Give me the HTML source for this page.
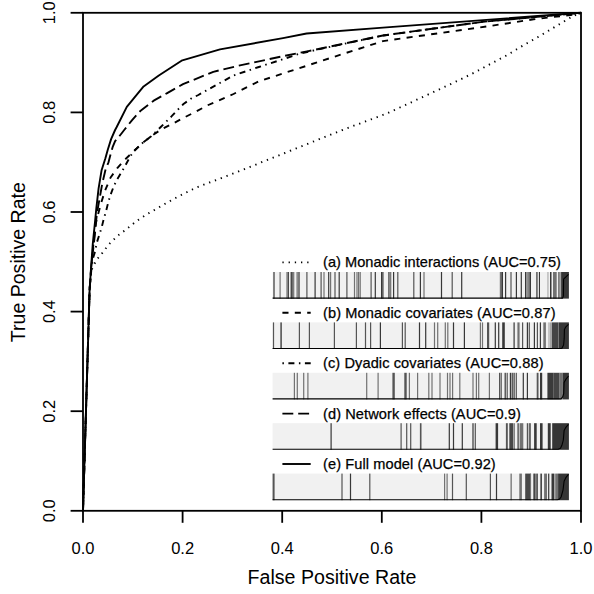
<!DOCTYPE html>
<html><head><meta charset="utf-8"><style>
html,body{margin:0;padding:0;background:#fff;overflow:hidden;}
svg{display:block;}
text{font-family:"Liberation Sans",sans-serif;fill:#000;}
</style></head><body>
<svg width="594" height="594" viewBox="0 0 594 594">
<rect width="594" height="594" fill="#fff"/>

<polyline points="83.0,510.8 89.6,289.9 91.5,270.0 94.0,264.7 96.9,259.4 100.8,255.0 108.4,244.9 116.8,236.5 126.9,228.9 136.2,221.3 146.3,214.6 157.2,208.4 168.2,202.0 179.1,196.1 196.0,187.7 240.5,170.7 291.0,150.5 341.5,130.3 385.3,114.1 402.2,106.5 424.7,96.1 447.1,85.7 458.3,80.5 474.7,72.4 491.1,63.6 507.5,54.9 523.9,45.0 539.3,36.3 555.7,26.4 572.1,16.6 581.0,12.8" fill="none" stroke="#000" stroke-width="1.9" stroke-linejoin="round" stroke-dasharray="1.3 4.9"/>
<polyline points="83.0,510.8 89.6,289.9 91.3,267.0 93.3,245.0 95.6,224.2 98.1,214.1 101.6,201.5 105.1,190.4 110.6,177.5 117.1,168.4 124.2,160.3 134.3,150.7 142.4,143.1 153.0,135.0 161.1,129.5 174.2,122.9 185.4,116.9 196.5,111.3 207.6,105.3 233.5,94.0 258.8,81.3 283.0,73.5 333.5,57.0 383.0,41.1 488.0,26.3 533.5,19.3 577.3,14.2 581.0,12.8" fill="none" stroke="#000" stroke-width="1.9" stroke-linejoin="round" stroke-dasharray="6.1 6.3"/>
<polyline points="83.0,510.8 89.6,289.9 91.5,268.0 92.8,258.8 95.1,251.5 96.6,243.4 99.1,235.4 101.7,227.3 103.7,219.2 106.2,210.6 108.2,202.5 110.7,194.4 113.7,186.4 117.1,179.5 121.7,171.9 125.7,164.8 130.3,156.3 134.3,150.7 142.4,143.1 151.2,136.3 160.5,127.3 171.7,116.2 177.3,110.2 183.5,104.0 190.9,98.7 198.3,95.0 206.1,90.6 233.5,75.5 258.8,67.0 283.0,59.2 299.8,53.6 333.5,46.1 383.0,35.5 483.0,21.8 581.0,12.8" fill="none" stroke="#000" stroke-width="1.9" stroke-linejoin="round" stroke-dasharray="1.5 4.5 6 4.5"/>
<polyline points="83.0,510.8 89.6,289.9 91.4,265.0 94.4,238.6 96.9,213.3 99.6,198.5 102.1,184.3 105.6,169.2 108.5,162.3 110.6,154.2 112.6,147.2 115.1,141.1 120.7,134.5 124.2,130.0 131.9,120.3 140.3,111.0 153.7,100.7 167.2,93.1 183.0,84.2 213.3,71.8 238.6,65.7 283.0,56.2 308.3,51.1 383.0,35.5 483.0,21.8 581.0,12.8" fill="none" stroke="#000" stroke-width="1.9" stroke-linejoin="round" stroke-dasharray="10.9 4.9"/>
<polyline points="83.0,510.8 89.6,289.9 91.1,267.0 92.8,243.5 95.2,220.0 96.3,208.6 98.6,188.4 101.6,170.2 105.4,158.3 107.7,150.0 111.1,139.1 115.1,130.0 116.7,127.0 126.8,106.8 143.6,86.4 158.8,75.5 182.3,60.3 220.0,49.4 283.0,38.1 306.6,33.5 383.0,27.6 483.0,20.1 581.0,12.8" fill="none" stroke="#000" stroke-width="1.9" stroke-linejoin="round"/>
<line x1="282.4" y1="262.4" x2="310.7" y2="262.4" stroke="#000" stroke-width="1.9" stroke-dasharray="1.3 4.9"/>
<text x="323.0" y="267.4" font-size="14.6" stroke="#000" stroke-width="0.25" textLength="237.9" lengthAdjust="spacing">(a) Monadic interactions (AUC=0.75)</text>
<line x1="282.4" y1="312.8" x2="310.7" y2="312.8" stroke="#000" stroke-width="1.9" stroke-dasharray="6.1 6.3"/>
<text x="323.0" y="317.8" font-size="14.6" stroke="#000" stroke-width="0.25" textLength="232.5" lengthAdjust="spacing">(b) Monadic covariates (AUC=0.87)</text>
<line x1="282.4" y1="363.2" x2="310.7" y2="363.2" stroke="#000" stroke-width="1.9" stroke-dasharray="1.5 4.5 6 4.5"/>
<text x="323.0" y="368.2" font-size="14.6" stroke="#000" stroke-width="0.25" textLength="220.5" lengthAdjust="spacing">(c) Dyadic covariates (AUC=0.88)</text>
<line x1="282.4" y1="413.6" x2="310.7" y2="413.6" stroke="#000" stroke-width="1.9" stroke-dasharray="10.9 4.9"/>
<text x="323.0" y="418.6" font-size="14.6" stroke="#000" stroke-width="0.25" textLength="197.9" lengthAdjust="spacing">(d) Network effects (AUC=0.9)</text>
<line x1="282.4" y1="464.0" x2="310.7" y2="464.0" stroke="#000" stroke-width="1.9"/>
<text x="323.0" y="469.0" font-size="14.6" stroke="#000" stroke-width="0.25" textLength="172.7" lengthAdjust="spacing">(e) Full model (AUC=0.92)</text>
<rect x="272.6" y="272.0" width="296.3" height="26.6" fill="#f1f1f1"/>
<rect x="273.40" y="272.0" width="1.20" height="26.6" fill="#383838"/>
<rect x="279.50" y="272.0" width="1.20" height="26.6" fill="#727272"/>
<rect x="286.40" y="272.0" width="1.20" height="26.6" fill="#727272"/>
<rect x="287.70" y="272.0" width="1.20" height="26.6" fill="#383838"/>
<rect x="290.60" y="272.0" width="1.20" height="26.6" fill="#383838"/>
<rect x="291.50" y="272.0" width="1.20" height="26.6" fill="#383838"/>
<rect x="293.10" y="272.0" width="1.20" height="26.6" fill="#727272"/>
<rect x="296.50" y="272.0" width="1.20" height="26.6" fill="#727272"/>
<rect x="297.70" y="272.0" width="1.20" height="26.6" fill="#727272"/>
<rect x="298.70" y="272.0" width="1.20" height="26.6" fill="#727272"/>
<rect x="306.30" y="272.0" width="1.20" height="26.6" fill="#555555"/>
<rect x="314.50" y="272.0" width="1.20" height="26.6" fill="#383838"/>
<rect x="320.50" y="272.0" width="1.20" height="26.6" fill="#555555"/>
<rect x="323.40" y="272.0" width="1.20" height="26.6" fill="#727272"/>
<rect x="328.10" y="272.0" width="1.20" height="26.6" fill="#383838"/>
<rect x="330.00" y="272.0" width="1.20" height="26.6" fill="#727272"/>
<rect x="334.40" y="272.0" width="1.20" height="26.6" fill="#555555"/>
<rect x="338.60" y="272.0" width="1.20" height="26.6" fill="#383838"/>
<rect x="346.30" y="272.0" width="1.20" height="26.6" fill="#555555"/>
<rect x="353.90" y="272.0" width="1.20" height="26.6" fill="#727272"/>
<rect x="356.40" y="272.0" width="1.20" height="26.6" fill="#727272"/>
<rect x="358.00" y="272.0" width="1.20" height="26.6" fill="#727272"/>
<rect x="359.60" y="272.0" width="1.20" height="26.6" fill="#727272"/>
<rect x="370.50" y="272.0" width="1.20" height="26.6" fill="#555555"/>
<rect x="374.70" y="272.0" width="1.20" height="26.6" fill="#383838"/>
<rect x="381.00" y="272.0" width="1.20" height="26.6" fill="#383838"/>
<rect x="382.30" y="272.0" width="1.20" height="26.6" fill="#383838"/>
<rect x="388.00" y="272.0" width="1.20" height="26.6" fill="#727272"/>
<rect x="389.20" y="272.0" width="1.20" height="26.6" fill="#727272"/>
<rect x="390.10" y="272.0" width="1.20" height="26.6" fill="#727272"/>
<rect x="393.00" y="272.0" width="1.20" height="26.6" fill="#383838"/>
<rect x="397.20" y="272.0" width="1.20" height="26.6" fill="#555555"/>
<rect x="413.20" y="272.0" width="1.20" height="26.6" fill="#555555"/>
<rect x="419.80" y="272.0" width="1.20" height="26.6" fill="#383838"/>
<rect x="423.40" y="272.0" width="1.20" height="26.6" fill="#727272"/>
<rect x="440.90" y="272.0" width="1.20" height="26.6" fill="#383838"/>
<rect x="451.60" y="272.0" width="1.20" height="26.6" fill="#555555"/>
<rect x="461.10" y="272.0" width="1.20" height="26.6" fill="#383838"/>
<rect x="499.80" y="272.0" width="1.20" height="26.6" fill="#727272"/>
<rect x="500.90" y="272.0" width="1.20" height="26.6" fill="#727272"/>
<rect x="501.80" y="272.0" width="1.20" height="26.6" fill="#383838"/>
<rect x="505.00" y="272.0" width="1.20" height="26.6" fill="#383838"/>
<rect x="510.40" y="272.0" width="1.20" height="26.6" fill="#555555"/>
<rect x="515.80" y="272.0" width="1.20" height="26.6" fill="#383838"/>
<rect x="520.70" y="272.0" width="1.20" height="26.6" fill="#383838"/>
<rect x="525.00" y="272.0" width="1.20" height="26.6" fill="#383838"/>
<rect x="526.40" y="272.0" width="1.20" height="26.6" fill="#727272"/>
<rect x="527.60" y="272.0" width="1.20" height="26.6" fill="#727272"/>
<rect x="528.70" y="272.0" width="1.20" height="26.6" fill="#727272"/>
<rect x="529.80" y="272.0" width="1.20" height="26.6" fill="#383838"/>
<rect x="536.00" y="272.0" width="1.80" height="26.6" fill="#727272"/>
<rect x="538.90" y="272.0" width="1.10" height="26.6" fill="#383838"/>
<rect x="547.40" y="272.0" width="1.10" height="26.6" fill="#a8a8a8"/>
<rect x="550.00" y="272.0" width="1.50" height="26.6" fill="#383838"/>
<rect x="553.00" y="272.0" width="3.70" height="26.6" fill="#727272"/>
<rect x="558.10" y="272.0" width="1.20" height="26.6" fill="#727272"/>
<rect x="559.60" y="272.0" width="0.80" height="26.6" fill="#383838"/>
<rect x="561.1" y="272.0" width="7.8" height="26.6" fill="#363636"/>
<polyline points="272.6,298.1 562.6,298.1 563.4,295.9 563.6,279.2 568.5,274.3" fill="none" stroke="#000" stroke-width="1.1" stroke-linejoin="round"/>
<rect x="272.6" y="322.4" width="296.3" height="26.6" fill="#f1f1f1"/>
<rect x="272.90" y="322.4" width="1.20" height="26.6" fill="#555555"/>
<rect x="280.30" y="322.4" width="1.60" height="26.6" fill="#555555"/>
<rect x="298.80" y="322.4" width="1.20" height="26.6" fill="#555555"/>
<rect x="308.80" y="322.4" width="1.20" height="26.6" fill="#555555"/>
<rect x="333.80" y="322.4" width="1.20" height="26.6" fill="#555555"/>
<rect x="355.80" y="322.4" width="1.20" height="26.6" fill="#555555"/>
<rect x="364.90" y="322.4" width="1.20" height="26.6" fill="#555555"/>
<rect x="370.00" y="322.4" width="1.20" height="26.6" fill="#555555"/>
<rect x="379.80" y="322.4" width="1.20" height="26.6" fill="#383838"/>
<rect x="401.80" y="322.4" width="1.20" height="26.6" fill="#555555"/>
<rect x="404.60" y="322.4" width="1.20" height="26.6" fill="#555555"/>
<rect x="418.90" y="322.4" width="1.20" height="26.6" fill="#383838"/>
<rect x="425.10" y="322.4" width="1.20" height="26.6" fill="#383838"/>
<rect x="433.90" y="322.4" width="1.20" height="26.6" fill="#727272"/>
<rect x="437.10" y="322.4" width="1.20" height="26.6" fill="#727272"/>
<rect x="444.70" y="322.4" width="1.20" height="26.6" fill="#727272"/>
<rect x="447.20" y="322.4" width="1.20" height="26.6" fill="#727272"/>
<rect x="452.90" y="322.4" width="1.20" height="26.6" fill="#383838"/>
<rect x="463.80" y="322.4" width="1.20" height="26.6" fill="#383838"/>
<rect x="479.80" y="322.4" width="1.20" height="26.6" fill="#727272"/>
<rect x="481.90" y="322.4" width="1.20" height="26.6" fill="#727272"/>
<rect x="487.00" y="322.4" width="2.20" height="26.6" fill="#555555"/>
<rect x="494.70" y="322.4" width="1.20" height="26.6" fill="#383838"/>
<rect x="498.10" y="322.4" width="1.20" height="26.6" fill="#383838"/>
<rect x="502.20" y="322.4" width="2.60" height="26.6" fill="#383838"/>
<rect x="513.50" y="322.4" width="1.20" height="26.6" fill="#383838"/>
<rect x="517.40" y="322.4" width="2.20" height="26.6" fill="#727272"/>
<rect x="522.00" y="322.4" width="1.20" height="26.6" fill="#555555"/>
<rect x="526.80" y="322.4" width="1.20" height="26.6" fill="#383838"/>
<rect x="528.70" y="322.4" width="1.20" height="26.6" fill="#555555"/>
<rect x="533.80" y="322.4" width="1.20" height="26.6" fill="#383838"/>
<rect x="536.80" y="322.4" width="1.20" height="26.6" fill="#555555"/>
<rect x="539.80" y="322.4" width="1.20" height="26.6" fill="#383838"/>
<rect x="543.30" y="322.4" width="2.60" height="26.6" fill="#727272"/>
<rect x="548.40" y="322.4" width="1.20" height="26.6" fill="#a8a8a8"/>
<rect x="550.40" y="322.4" width="1.10" height="26.6" fill="#727272"/>
<rect x="551.90" y="322.4" width="6.20" height="26.6" fill="#454545"/>
<rect x="558.10" y="322.4" width="0.80" height="26.6" fill="#6a6a6a"/>
<rect x="558.9" y="322.4" width="10.0" height="26.6" fill="#363636"/>
<polyline points="272.6,348.5 561.8,348.5 563.6,345.0 564.2,338.4 564.4,329.6 565.6,327.2 568.5,324.3" fill="none" stroke="#000" stroke-width="1.1" stroke-linejoin="round"/>
<rect x="272.6" y="372.8" width="296.3" height="26.6" fill="#f1f1f1"/>
<rect x="293.80" y="372.8" width="1.20" height="26.6" fill="#727272"/>
<rect x="296.70" y="372.8" width="1.20" height="26.6" fill="#727272"/>
<rect x="303.10" y="372.8" width="1.20" height="26.6" fill="#727272"/>
<rect x="307.30" y="372.8" width="1.20" height="26.6" fill="#727272"/>
<rect x="366.10" y="372.8" width="1.20" height="26.6" fill="#727272"/>
<rect x="377.50" y="372.8" width="1.20" height="26.6" fill="#727272"/>
<rect x="392.40" y="372.8" width="2.40" height="26.6" fill="#555555"/>
<rect x="404.30" y="372.8" width="2.40" height="26.6" fill="#555555"/>
<rect x="408.80" y="372.8" width="1.20" height="26.6" fill="#727272"/>
<rect x="417.00" y="372.8" width="1.20" height="26.6" fill="#727272"/>
<rect x="428.20" y="372.8" width="1.20" height="26.6" fill="#727272"/>
<rect x="431.40" y="372.8" width="1.20" height="26.6" fill="#727272"/>
<rect x="439.40" y="372.8" width="1.20" height="26.6" fill="#727272"/>
<rect x="446.90" y="372.8" width="1.20" height="26.6" fill="#727272"/>
<rect x="449.40" y="372.8" width="1.20" height="26.6" fill="#727272"/>
<rect x="452.00" y="372.8" width="1.20" height="26.6" fill="#727272"/>
<rect x="459.20" y="372.8" width="1.20" height="26.6" fill="#727272"/>
<rect x="472.40" y="372.8" width="1.20" height="26.6" fill="#727272"/>
<rect x="475.80" y="372.8" width="1.20" height="26.6" fill="#727272"/>
<rect x="478.10" y="372.8" width="1.20" height="26.6" fill="#727272"/>
<rect x="488.80" y="372.8" width="1.20" height="26.6" fill="#727272"/>
<rect x="499.00" y="372.8" width="1.20" height="26.6" fill="#555555"/>
<rect x="500.60" y="372.8" width="1.20" height="26.6" fill="#555555"/>
<rect x="504.60" y="372.8" width="1.20" height="26.6" fill="#383838"/>
<rect x="506.60" y="372.8" width="1.20" height="26.6" fill="#555555"/>
<rect x="509.80" y="372.8" width="1.20" height="26.6" fill="#383838"/>
<rect x="511.60" y="372.8" width="1.20" height="26.6" fill="#383838"/>
<rect x="513.50" y="372.8" width="1.20" height="26.6" fill="#383838"/>
<rect x="515.70" y="372.8" width="1.20" height="26.6" fill="#555555"/>
<rect x="522.70" y="372.8" width="1.20" height="26.6" fill="#383838"/>
<rect x="526.80" y="372.8" width="1.20" height="26.6" fill="#383838"/>
<rect x="536.70" y="372.8" width="1.80" height="26.6" fill="#555555"/>
<rect x="540.00" y="372.8" width="2.20" height="26.6" fill="#383838"/>
<rect x="547.40" y="372.8" width="6.30" height="26.6" fill="#3a3a3a"/>
<rect x="553.70" y="372.8" width="5.90" height="26.6" fill="#454545"/>
<rect x="559.60" y="372.8" width="3.00" height="26.6" fill="#707070"/>
<rect x="562.6" y="372.8" width="6.3" height="26.6" fill="#363636"/>
<polyline points="272.6,398.9 561.1,398.9 562.8,396.7 563.7,393.5 564.1,382.6 565.6,379.7 568.5,376.0" fill="none" stroke="#000" stroke-width="1.1" stroke-linejoin="round"/>
<rect x="272.6" y="423.2" width="296.3" height="26.6" fill="#f1f1f1"/>
<rect x="330.50" y="423.2" width="1.20" height="26.6" fill="#383838"/>
<rect x="400.50" y="423.2" width="1.20" height="26.6" fill="#555555"/>
<rect x="406.10" y="423.2" width="1.20" height="26.6" fill="#555555"/>
<rect x="410.10" y="423.2" width="1.20" height="26.6" fill="#555555"/>
<rect x="419.90" y="423.2" width="1.60" height="26.6" fill="#555555"/>
<rect x="448.70" y="423.2" width="1.20" height="26.6" fill="#383838"/>
<rect x="452.90" y="423.2" width="1.20" height="26.6" fill="#383838"/>
<rect x="461.70" y="423.2" width="1.20" height="26.6" fill="#383838"/>
<rect x="472.40" y="423.2" width="1.20" height="26.6" fill="#383838"/>
<rect x="474.70" y="423.2" width="1.20" height="26.6" fill="#555555"/>
<rect x="495.60" y="423.2" width="2.50" height="26.6" fill="#383838"/>
<rect x="505.90" y="423.2" width="1.90" height="26.6" fill="#555555"/>
<rect x="509.30" y="423.2" width="3.70" height="26.6" fill="#484848"/>
<rect x="513.50" y="423.2" width="1.20" height="26.6" fill="#555555"/>
<rect x="517.50" y="423.2" width="1.20" height="26.6" fill="#383838"/>
<rect x="519.60" y="423.2" width="3.70" height="26.6" fill="#727272"/>
<rect x="526.80" y="423.2" width="1.20" height="26.6" fill="#555555"/>
<rect x="528.70" y="423.2" width="1.20" height="26.6" fill="#555555"/>
<rect x="529.80" y="423.2" width="1.20" height="26.6" fill="#727272"/>
<rect x="534.10" y="423.2" width="2.60" height="26.6" fill="#383838"/>
<rect x="540.00" y="423.2" width="2.60" height="26.6" fill="#383838"/>
<rect x="547.80" y="423.2" width="2.90" height="26.6" fill="#383838"/>
<rect x="552.2" y="423.2" width="16.7" height="26.6" fill="#363636"/>
<polyline points="272.6,449.3 558.1,449.3 560.5,448.2 561.9,445.3 563.3,440.2 564.1,430.6 565.6,427.7 568.5,424.3" fill="none" stroke="#000" stroke-width="1.1" stroke-linejoin="round"/>
<rect x="272.6" y="473.6" width="296.3" height="26.6" fill="#f1f1f1"/>
<rect x="272.60" y="473.6" width="2.00" height="26.6" fill="#555555"/>
<rect x="341.40" y="473.6" width="1.20" height="26.6" fill="#555555"/>
<rect x="349.90" y="473.6" width="1.20" height="26.6" fill="#383838"/>
<rect x="369.20" y="473.6" width="1.20" height="26.6" fill="#555555"/>
<rect x="444.00" y="473.6" width="1.20" height="26.6" fill="#727272"/>
<rect x="446.50" y="473.6" width="1.20" height="26.6" fill="#727272"/>
<rect x="451.90" y="473.6" width="1.20" height="26.6" fill="#555555"/>
<rect x="465.70" y="473.6" width="1.20" height="26.6" fill="#555555"/>
<rect x="489.80" y="473.6" width="1.20" height="26.6" fill="#555555"/>
<rect x="495.90" y="473.6" width="1.20" height="26.6" fill="#383838"/>
<rect x="510.50" y="473.6" width="1.30" height="26.6" fill="#727272"/>
<rect x="519.30" y="473.6" width="2.60" height="26.6" fill="#727272"/>
<rect x="525.20" y="473.6" width="5.50" height="26.6" fill="#484848"/>
<rect x="533.10" y="473.6" width="1.20" height="26.6" fill="#727272"/>
<rect x="530.00" y="473.6" width="1.10" height="26.6" fill="#727272"/>
<rect x="534.10" y="473.6" width="1.50" height="26.6" fill="#383838"/>
<rect x="536.30" y="473.6" width="1.50" height="26.6" fill="#383838"/>
<rect x="540.40" y="473.6" width="1.50" height="26.6" fill="#383838"/>
<rect x="544.10" y="473.6" width="2.90" height="26.6" fill="#727272"/>
<rect x="548.10" y="473.6" width="1.20" height="26.6" fill="#383838"/>
<rect x="551.50" y="473.6" width="2.90" height="26.6" fill="#383838"/>
<rect x="555.20" y="473.6" width="2.90" height="26.6" fill="#727272"/>
<rect x="558.1" y="473.6" width="10.8" height="26.6" fill="#363636"/>
<polyline points="272.6,499.7 557.4,499.7 559.5,499.1 561.1,497.0 563.0,490.1 564.1,481.3 566.0,477.3 568.5,474.4" fill="none" stroke="#000" stroke-width="1.1" stroke-linejoin="round"/>
<rect x="83.0" y="12.8" width="498.0" height="498.0" fill="none" stroke="#000" stroke-width="1.8"/>
<line x1="83.0" y1="510.8" x2="83.0" y2="522.8" stroke="#000" stroke-width="1.8"/>
<line x1="70.6" y1="510.8" x2="83.0" y2="510.8" stroke="#000" stroke-width="1.8"/>
<text x="83.0" y="554" font-size="16.5" text-anchor="middle">0.0</text>
<text transform="translate(55,510.8) rotate(-90)" x="0" y="0" font-size="16.5" text-anchor="middle">0.0</text>
<line x1="182.6" y1="510.8" x2="182.6" y2="522.8" stroke="#000" stroke-width="1.8"/>
<line x1="70.6" y1="411.2" x2="83.0" y2="411.2" stroke="#000" stroke-width="1.8"/>
<text x="182.6" y="554" font-size="16.5" text-anchor="middle">0.2</text>
<text transform="translate(55,411.2) rotate(-90)" x="0" y="0" font-size="16.5" text-anchor="middle">0.2</text>
<line x1="282.2" y1="510.8" x2="282.2" y2="522.8" stroke="#000" stroke-width="1.8"/>
<line x1="70.6" y1="311.6" x2="83.0" y2="311.6" stroke="#000" stroke-width="1.8"/>
<text x="282.2" y="554" font-size="16.5" text-anchor="middle">0.4</text>
<text transform="translate(55,311.6) rotate(-90)" x="0" y="0" font-size="16.5" text-anchor="middle">0.4</text>
<line x1="381.8" y1="510.8" x2="381.8" y2="522.8" stroke="#000" stroke-width="1.8"/>
<line x1="70.6" y1="212.0" x2="83.0" y2="212.0" stroke="#000" stroke-width="1.8"/>
<text x="381.8" y="554" font-size="16.5" text-anchor="middle">0.6</text>
<text transform="translate(55,212.0) rotate(-90)" x="0" y="0" font-size="16.5" text-anchor="middle">0.6</text>
<line x1="481.4" y1="510.8" x2="481.4" y2="522.8" stroke="#000" stroke-width="1.8"/>
<line x1="70.6" y1="112.4" x2="83.0" y2="112.4" stroke="#000" stroke-width="1.8"/>
<text x="481.4" y="554" font-size="16.5" text-anchor="middle">0.8</text>
<text transform="translate(55,112.4) rotate(-90)" x="0" y="0" font-size="16.5" text-anchor="middle">0.8</text>
<line x1="581.0" y1="510.8" x2="581.0" y2="522.8" stroke="#000" stroke-width="1.8"/>
<line x1="70.6" y1="12.8" x2="83.0" y2="12.8" stroke="#000" stroke-width="1.8"/>
<text x="581.0" y="554" font-size="16.5" text-anchor="middle">1.0</text>
<text transform="translate(55,12.8) rotate(-90)" x="0" y="0" font-size="16.5" text-anchor="middle">1.0</text>
<text x="332" y="583.9" font-size="19.6" text-anchor="middle">False Positive Rate</text>
<text transform="translate(25.1,262.15) rotate(-90)" x="0" y="0" font-size="19.56" text-anchor="middle">True Positive Rate</text>
</svg></body></html>
